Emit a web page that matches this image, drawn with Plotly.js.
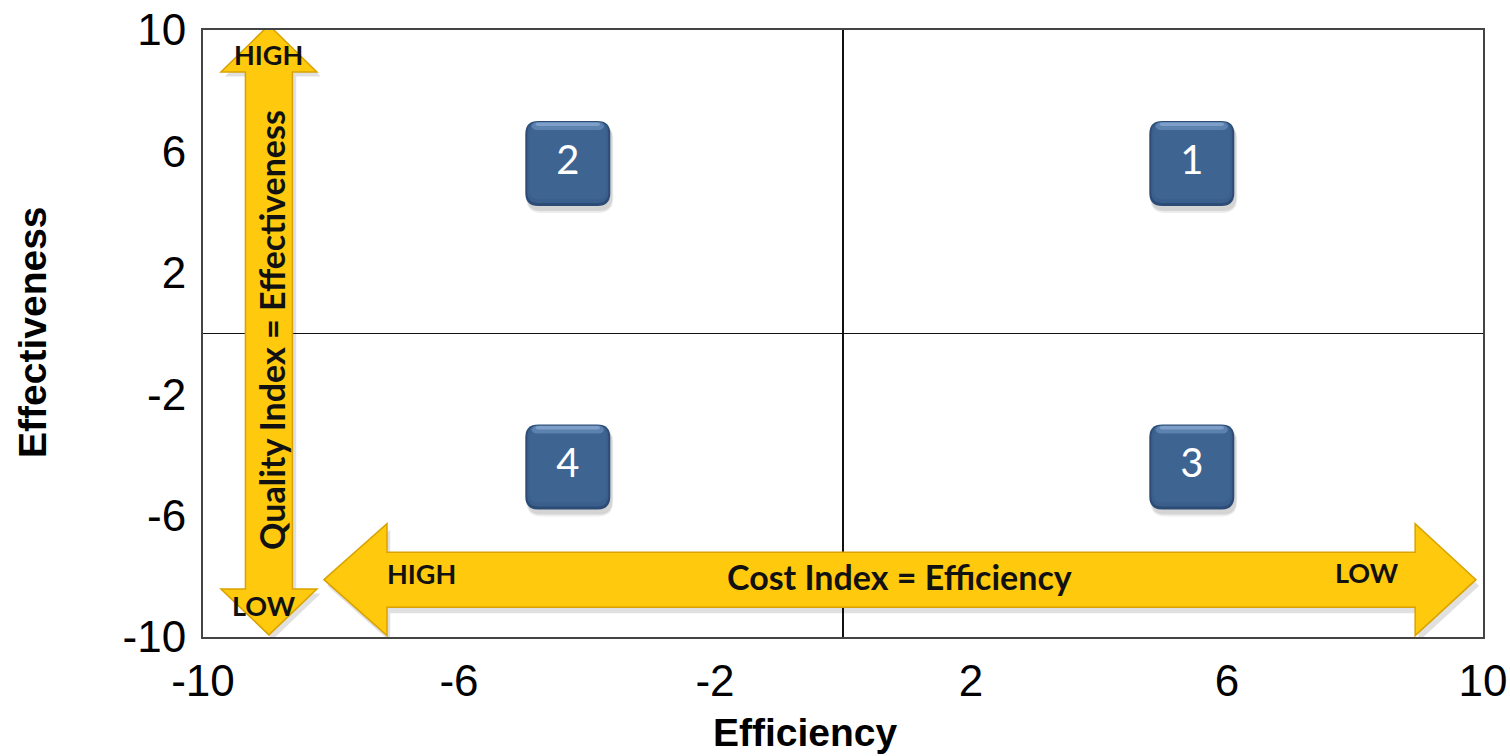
<!DOCTYPE html>
<html>
<head>
<meta charset="utf-8">
<script src="https://cdn.plot.ly/plotly-3.0.1.min.js"></script>
<style>html,body{margin:0;padding:0;background:#fff;}#chart{width:1510px;height:756px;}</style>
</head>
<body>
<div id="chart"></div>
<script>
// Data
const quadrantLabels = ["1", "2", "3", "4"];
const efficiencyValues = [5.45, -4.3, 5.45, -4.3];
const effectivenessValues = [5.6, 5.6, -4.4, -4.4];
const tickValues = [-10, -6, -2, 2, 6, 10];
const tickLabels = ["-10", "-6", "-2", "2", "6", "10"];

// Arrow geometry (data units)
const vArrow = {x: -8.97, shaftHalf: 0.367, headHalf: 0.75, top: 10.16, topBase: 8.62, bottom: -9.93, bottomBase: -8.42};
const hArrow = {y: -8.11, shaftHalf: 0.906, headHalf: 1.845, left: -8.11, leftBase: -7.125, right: 9.89, rightBase: 8.94};

function vPath(a) {
  const xl = a.x - a.shaftHalf, xr = a.x + a.shaftHalf, hl = a.x - a.headHalf, hr = a.x + a.headHalf;
  return `M${a.x},${a.top} L${hr},${a.topBase} L${xr},${a.topBase} L${xr},${a.bottomBase} L${hr},${a.bottomBase} L${a.x},${a.bottom} L${hl},${a.bottomBase} L${xl},${a.bottomBase} L${xl},${a.topBase} L${hl},${a.topBase} Z`;
}
function hPath(a) {
  const yt = a.y + a.shaftHalf, yb = a.y - a.shaftHalf, ht = a.y + a.headHalf, hb = a.y - a.headHalf;
  return `M${a.left},${a.y} L${a.leftBase},${ht} L${a.leftBase},${yt} L${a.rightBase},${yt} L${a.rightBase},${ht} L${a.right},${a.y} L${a.rightBase},${hb} L${a.rightBase},${yb} L${a.leftBase},${yb} L${a.leftBase},${hb} Z`;
}
// rounded rectangle in pixel offsets (y positive up)
function roundRect(x0, x1, y0, y1, r) {
  return `M${x0 + r},${y1} L${x1 - r},${y1} Q${x1},${y1} ${x1},${y1 - r} L${x1},${y0 + r} Q${x1},${y0} ${x1 - r},${y0} L${x0 + r},${y0} Q${x0},${y0} ${x0},${y0 + r} L${x0},${y1 - r} Q${x0},${y1} ${x0 + r},${y1} Z`;
}

const gold = '#FFC90E';
const goldEdge = '#D9A200';
const shapes = [
  {type: 'path', xref: 'x', yref: 'y', path: vPath(Object.assign({}, vArrow, {x: vArrow.x + 0.06, top: vArrow.top - 0.15, topBase: vArrow.topBase - 0.15, bottom: vArrow.bottom - 0.15, bottomBase: vArrow.bottomBase - 0.15})), fillcolor: 'rgba(0,0,0,0.12)', line: {width: 0}, layer: 'above'},
  {type: 'path', xref: 'x', yref: 'y', path: hPath(Object.assign({}, hArrow, {y: hArrow.y - 0.2, left: hArrow.left + 0.05, leftBase: hArrow.leftBase + 0.05, right: hArrow.right + 0.05, rightBase: hArrow.rightBase + 0.05})), fillcolor: 'rgba(0,0,0,0.12)', line: {width: 0}, layer: 'above'},
  {type: 'path', xref: 'x', yref: 'y', path: vPath(vArrow), fillcolor: gold, line: {color: goldEdge, width: 1.5}, layer: 'above'},
  {type: 'path', xref: 'x', yref: 'y', path: hPath(hArrow), fillcolor: gold, line: {color: goldEdge, width: 1.5}, layer: 'above'}
];

// Rounded boxes anchored at the data points
const half = 42.5, rad = 13;
efficiencyValues.forEach((xv, i) => {
  const yv = effectivenessValues[i];
  const base = {type: 'path', xref: 'x', yref: 'y', xsizemode: 'pixel', ysizemode: 'pixel', xanchor: xv, yanchor: yv, layer: 'below', line: {width: 0}};
  // soft shadow
  shapes.push(Object.assign({}, base, {path: roundRect(-half + 1, half + 3, -half - 7, half - 3, rad + 2), fillcolor: 'rgba(0,0,0,0.07)'}));
  shapes.push(Object.assign({}, base, {path: roundRect(-half + 2, half + 2, -half - 5, half - 4, rad), fillcolor: 'rgba(0,0,0,0.10)'}));
  // body
  shapes.push(Object.assign({}, base, {path: roundRect(-half, half, -half, half, rad), fillcolor: '#2c4c76'}));
  shapes.push(Object.assign({}, base, {path: roundRect(-half + 2, half - 2, -half + 3, half - 1, rad - 2), fillcolor: '#3a5f8d'}));
  shapes.push(Object.assign({}, base, {path: roundRect(-half + 4, half - 4, -half + 7, half - 3, rad - 4), fillcolor: '#3e6492'}));
  // top gloss
  shapes.push(Object.assign({}, base, {path: roundRect(-half + 6, half - 6, half - 9, half - 1, 6), fillcolor: 'rgba(150,185,230,0.35)'}));
  shapes.push(Object.assign({}, base, {path: roundRect(-half + 10, half - 10, half - 5, half - 1.5, 3), fillcolor: 'rgba(190,215,250,0.35)'}));
});

const arrowFont = {family: 'Lato, "Open Sans", sans-serif', size: 34, color: '#111'};
const smallFont = Object.assign({}, arrowFont, {size: 27});
const titleFont = {family: 'Arial, "Liberation Sans", sans-serif', size: 39, color: '#000'};
const annotations = [
  {x: -8.97, y: 9.18, xref: 'x', yref: 'y', text: '<b>HIGH</b>', showarrow: false, font: smallFont},
  {x: -9.05, y: -8.95, xref: 'x', yref: 'y', text: '<b>LOW</b>', showarrow: false, font: smallFont},
  {x: -8.92, y: 0.12, xref: 'x', yref: 'y', text: '<b>Quality Index = Effectiveness</b>', textangle: -90, showarrow: false, font: arrowFont},
  {x: -6.59, y: -7.92, xref: 'x', yref: 'y', text: '<b>HIGH</b>', showarrow: false, font: smallFont},
  {x: 0.875, y: -8.02, xref: 'x', yref: 'y', text: '<b>Cost Index = Efficiency</b>', showarrow: false, font: arrowFont},
  {x: 8.19, y: -7.89, xref: 'x', yref: 'y', text: '<b>LOW</b>', showarrow: false, font: smallFont},
  {x: 0.471, y: -0.157, xref: 'paper', yref: 'paper', xanchor: 'center', yanchor: 'middle', text: '<b>Efficiency</b>', showarrow: false, font: titleFont},
  {x: -0.1328, y: 0.501, xref: 'paper', yref: 'paper', xanchor: 'center', yanchor: 'middle', text: '<b>Effectiveness</b>', textangle: -90, showarrow: false, font: titleFont}
];

const boxTrace = {
  x: efficiencyValues, y: effectivenessValues, type: 'scatter', mode: 'text',
  text: quadrantLabels, textposition: 'middle center',
  textfont: {family: 'Lato, "Open Sans", sans-serif', size: 40, color: '#fff'},
  showlegend: false, cliponaxis: false
};

const axisFont = {family: 'Arial, "Liberation Sans", sans-serif', size: 44, color: '#000'};
const layout = {
  width: 1510, height: 756,
  margin: {l: 203, r: 27, t: 30, b: 119, pad: 0},
  paper_bgcolor: '#fff', plot_bgcolor: '#fff',
  showlegend: false,
  xaxis: {
    range: [-10, 10], tickvals: tickValues, ticktext: tickLabels, tickfont: axisFont,
    showgrid: false, zeroline: true, zerolinecolor: '#111', zerolinewidth: 1.5,
    showline: true, mirror: true, linecolor: '#444', linewidth: 2, ticks: '', ticklabelstandoff: 4,
    fixedrange: true
  },
  yaxis: {
    range: [-10, 10], tickvals: tickValues, ticktext: tickLabels, tickfont: axisFont,
    showgrid: false, zeroline: true, zerolinecolor: '#111', zerolinewidth: 1.5,
    showline: true, mirror: true, linecolor: '#444', linewidth: 2, ticks: '', ticklabelstandoff: 6,
    fixedrange: true
  },
  shapes: shapes,
  annotations: annotations
};

Plotly.newPlot('chart', [boxTrace], layout, {displayModeBar: false, staticPlot: true});
</script>
</body>
</html>
